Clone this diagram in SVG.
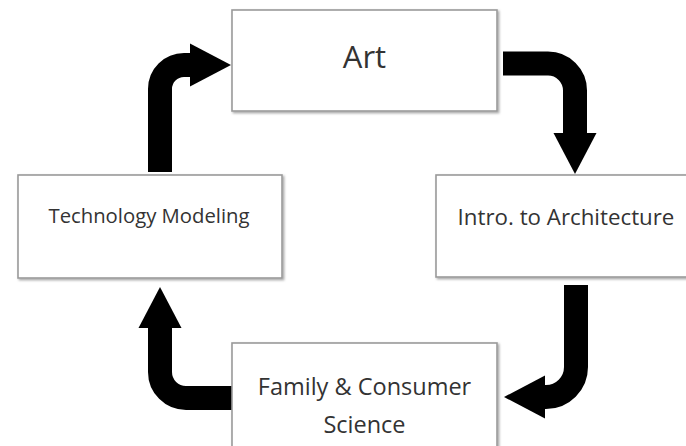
<svg xmlns="http://www.w3.org/2000/svg" width="686" height="446" viewBox="0 0 686 446">
  <defs>
    <filter id="shadow" x="-5%" y="-5%" width="115%" height="120%">
      <feDropShadow dx="1.5" dy="1.5" stdDeviation="0.8" flood-color="#000" flood-opacity="0.35"/>
    </filter>
    <!-- block arrowhead; its base sits on the shaft end -->
    <marker id="head" markerUnits="userSpaceOnUse" viewBox="0 -22 42 44" refX="0" refY="0" markerWidth="42" markerHeight="44" orient="auto" overflow="visible">
      <path d="M0,-21.5 L41,0 L0,21.5 Z" fill="#000"/>
    </marker>
  </defs>
  <style>
    .box { fill: #fff; stroke: #9a9a9a; stroke-width: 1.6; filter: url(#shadow); }
    .label { font-family: "Open Sans", "Liberation Sans", sans-serif; fill: #333; text-anchor: middle; }
    .shaft { fill: none; stroke: #000; stroke-width: 24; stroke-linecap: butt; marker-end: url(#head); }
  </style>
  <rect width="686" height="446" fill="#fff"/>

  <g id="connectors">
    <!-- Technology Modeling -> Art -->
    <path class="shaft" d="M160,172 V89 A24 24 0 0 1 184,65 H190"/>
    <!-- Art -> Intro. to Architecture -->
    <path class="shaft" d="M503,63.5 H548 A27 27 0 0 1 575,90.5 V133"/>
    <!-- Intro. to Architecture -> Family & Consumer Science -->
    <path class="shaft" d="M576,285 V367 A30 30 0 0 1 546,397 H545"/>
    <!-- Family & Consumer Science -> Technology Modeling -->
    <path class="shaft" d="M232,398 H186 A26 26 0 0 1 160,372 V328"/>
  </g>

  <g id="node-art">
    <rect class="box" x="232" y="10" width="265" height="101"/>
    <text class="label" x="364.5" y="68" font-size="31">Art</text>
  </g>

  <g id="node-architecture">
    <rect class="box" x="436" y="175" width="260" height="102"/>
    <text class="label" x="566" y="225" font-size="22.3">Intro. to Architecture</text>
  </g>

  <g id="node-family">
    <rect class="box" x="232" y="343" width="265" height="110"/>
    <text class="label" x="364.5" y="395" font-size="23.5">Family &amp; Consumer</text>
    <text class="label" x="364.5" y="433" font-size="23.5">Science</text>
  </g>

  <g id="node-technology">
    <rect class="box" x="18" y="175" width="264" height="103"/>
    <text class="label" x="149" y="223" font-size="20.3">Technology Modeling</text>
  </g>
</svg>
